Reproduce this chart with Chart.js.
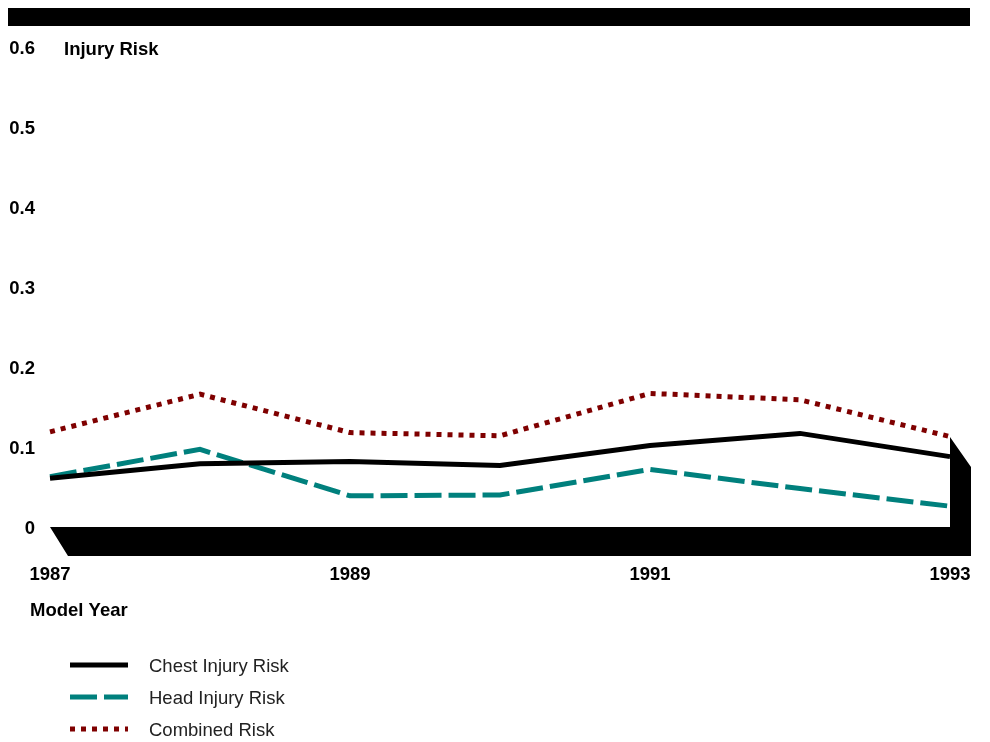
<!DOCTYPE html>
<html>
<head>
<meta charset="utf-8">
<script src="https://cdn.jsdelivr.net/npm/chart.js@4.4.1/dist/chart.umd.min.js"></script>
<style>
  html, body { margin: 0; padding: 0; background: #fff; }
  #wrap { width: 990px; height: 742px; }
</style>
</head>
<body>
<div id="wrap"><canvas id="riskChart" width="990" height="742"></canvas></div>
<script>
const years = [1987, 1988, 1989, 1990, 1991, 1992, 1993];
const chestRisk = [0.061, 0.079, 0.082, 0.077, 0.102, 0.117, 0.088];
const headRisk = [0.063, 0.097, 0.039, 0.040, 0.072, 0.048, 0.026];
const combinedRisk = [0.119, 0.166, 0.118, 0.114, 0.167, 0.159, 0.113];
const yTicks = [0, 0.1, 0.2, 0.3, 0.4, 0.5, 0.6];
const xTickYears = [1987, 1989, 1991, 1993];

const boldFont = { family: "'Liberation Sans', Arial, sans-serif", size: 18.5, weight: "bold" };

// Top bar, 3D floor, titles and legend
const decor = {
  id: "decor",
  beforeDatasetsDraw(chart) {
    const { ctx, chartArea, scales } = chart;
    const y0 = scales.y.getPixelForValue(0);
    const wallTop = scales.y.getPixelForValue(0.1125);
    const l = chartArea.left, r = chartArea.right;
    ctx.save();
    ctx.fillStyle = "#000";
    ctx.fillRect(8, 8, 962, 18);
    ctx.beginPath();
    ctx.moveTo(l, y0);
    ctx.lineTo(r, y0);
    ctx.lineTo(r, wallTop);
    ctx.lineTo(r + 21, wallTop + 30);
    ctx.lineTo(r + 21, y0 + 29);
    ctx.lineTo(l + 18, y0 + 29);
    ctx.closePath();
    ctx.fill();
    ctx.restore();
  },
  afterDraw(chart) {
    const { ctx } = chart;
    ctx.save();
    ctx.fillStyle = "#000";
    ctx.font = "bold 18.5px 'Liberation Sans', Arial, sans-serif";
    ctx.textBaseline = "middle";
    ctx.fillText("Injury Risk", 64, 50);
    ctx.fillText("Model Year", 30, 611);
    ctx.font = "18.5px 'Liberation Sans', Arial, sans-serif";
    chart.data.datasets.forEach((ds, i) => {
      const y = 665 + i * 32;
      ctx.beginPath();
      ctx.strokeStyle = ds.borderColor;
      ctx.lineWidth = ds.borderWidth;
      ctx.setLineDash(ds.borderDash || []);
      ctx.moveTo(70, y);
      ctx.lineTo(128, y);
      ctx.stroke();
      ctx.setLineDash([]);
      ctx.fillStyle = "#222";
      ctx.fillText(ds.label, 149, y + 2);
    });
    ctx.restore();
  }
};

new Chart(document.getElementById("riskChart"), {
  type: "line",
  data: {
    labels: years,
    datasets: [
      { label: "Chest Injury Risk", data: chestRisk, borderColor: "#000", borderWidth: 5, pointRadius: 0, tension: 0 },
      { label: "Head Injury Risk", data: headRisk, borderColor: "#00807d", borderWidth: 5, borderDash: [27, 7], pointRadius: 0, tension: 0 },
      { label: "Combined Risk", data: combinedRisk, borderColor: "#7f0000", borderWidth: 5, borderDash: [5, 6], pointRadius: 0, tension: 0 }
    ]
  },
  options: {
    responsive: false,
    animation: false,
    layout: { padding: { top: 47, right: 40, bottom: 0, left: 0 } },
    plugins: { legend: { display: false }, tooltip: { enabled: false } },
    scales: {
      x: {
        type: "category",
        offset: false,
        grid: { display: false, drawTicks: false },
        border: { display: false },
        ticks: {
          autoSkip: false,
          maxRotation: 0,
          padding: 37,
          color: "#000",
          font: boldFont,
          callback(value) {
            const yr = years[value];
            return xTickYears.includes(yr) ? String(yr) : "";
          }
        },
        afterFit(scale) {
          scale.height = 215;
          scale.paddingLeft = 0;
          scale.paddingRight = 0;
        }
      },
      y: {
        min: 0,
        max: 0.6,
        grid: { display: false, drawTicks: false },
        border: { display: false },
        afterBuildTicks(scale) { scale.ticks = yTicks.map(v => ({ value: v })); },
        ticks: {
          padding: 15,
          labelOffset: 2,
          color: "#000",
          font: boldFont,
          callback(value) { return value === 0 ? "0" : value.toFixed(1); }
        },
        afterFit(scale) {
          scale.width = 50;
          scale.paddingTop = 0;
          scale.paddingBottom = 0;
        }
      }
    }
  },
  plugins: [decor]
});
</script>
</body>
</html>
